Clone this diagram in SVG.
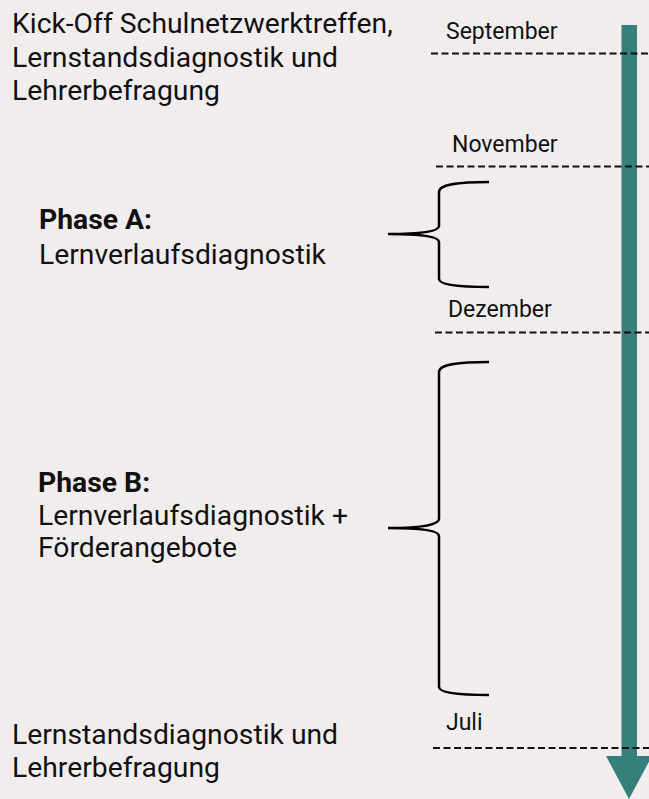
<svg xmlns="http://www.w3.org/2000/svg" width="649" height="799" viewBox="0 0 649 799">
<style>
.t{font-family:Roboto,"Liberation Sans",sans-serif;font-size:28.3px;fill:#111}
.b{font-weight:bold}
.m{font-family:Roboto,"Liberation Sans",sans-serif;font-size:23px;fill:#111}
.d{stroke:#111;stroke-width:2.2;stroke-dasharray:7 3.5;fill:none}
.br{stroke:#000;stroke-width:2.5;fill:none}
</style>
<rect width="649" height="799" fill="#f2eded"/>
<g id="arrow">
<rect x="621.5" y="25" width="15.5" height="732" fill="#35807a"/>
<polygon points="606,756 652,756 629,799" fill="#35807a"/>
</g>
<g id="connectors">
<line class="d" x1="431" y1="53.5" x2="649" y2="53.5"/>
<line class="d" x1="436" y1="166.5" x2="649" y2="166.5"/>
<line class="d" x1="435" y1="332.5" x2="649" y2="332.5"/>
<line class="d" x1="433" y1="748" x2="649" y2="748"/>
</g>
<g id="months">
<text class="m" x="446" y="39">September</text>
<text class="m" x="452" y="152">November</text>
<text class="m" x="448" y="317">Dezember</text>
<text class="m" x="446" y="730">Juli</text>
</g>
<g id="braceA">
<path class="br" d="M489,182 C460,182 439,184 439,192 L439,226 C439,231 425,234 388,234 C425,234 439,237 439,242 L439,279 C439,285 460,287 489,287"/>
</g>
<g id="braceB">
<path class="br" d="M489,362 C460,362 439,364 439,372 L439,519 C439,524 425,528 388,528 C425,528 439,531 439,536 L439,687 C439,693 460,695 489,695"/>
</g>
<g id="start">
<text class="t" x="12" y="33">Kick-Off Schulnetzwerktreffen,</text>
<text class="t" x="12" y="66.5">Lernstandsdiagnostik und</text>
<text class="t" x="12" y="100">Lehrerbefragung</text>
</g>
<g id="phaseA">
<text class="t b" x="39" y="229">Phase A:</text>
<text class="t" x="39" y="264">Lernverlaufsdiagnostik</text>
</g>
<g id="phaseB">
<text class="t b" x="38" y="492">Phase B:</text>
<text class="t" x="38" y="524.5">Lernverlaufsdiagnostik +</text>
<text class="t" x="38" y="557">Förderangebote</text>
</g>
<g id="end">
<text class="t" x="12" y="743.5">Lernstandsdiagnostik und</text>
<text class="t" x="12" y="777">Lehrerbefragung</text>
</g>
</svg>
